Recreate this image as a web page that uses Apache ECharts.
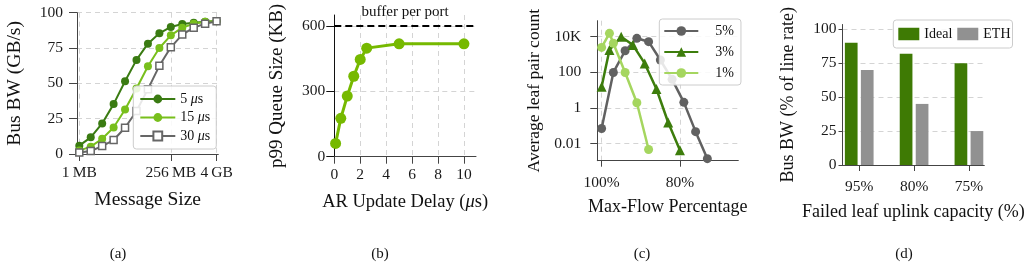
<!DOCTYPE html>
<html><head><meta charset="utf-8">
<script src="https://cdn.jsdelivr.net/npm/echarts@6/dist/echarts.min.js"></script>
<style>html,body{margin:0;padding:0;background:#fff}#c{width:1030px;height:269px}</style>
</head><body><div id="c"></div>
<script>
// ---- (a) Bus bandwidth vs message size ----
const msgSizesMB = [1,2,4,8,16,32,64,128,256,512,1024,2048,4096];
const bw5us  = [5.9,11.8,21.6,35.3,51.5,66.6,78.1,85.4,89.9,92.0,92.9,93.6,94.1];
const bw15us = [2.4,5.2,10.8,18.8,31.5,46.4,62.1,75.0,84.0,89.4,92.2,93.6,94.0];
const bw30us = [1.0,2.1,5.6,9.9,18.6,30.4,45.9,62.4,75.5,84.5,89.4,92.2,93.9];
const sizeTickValues = [1,256,4096];
const sizeTickLabels = ['1\u2009MB','256\u2009MB','4\u2009GB'];
const bwTicks = [0,25,50,75,100];
// ---- (b) p99 queue size vs AR update delay ----
const arDelayUs = [0.1,0.5,1,1.5,2,2.5,5,10];
const p99QueueKB = [61,176,278,369,446,498,518,518];
const delayTicks = [0,2,4,6,8,10];
const queueTicks = [0,300,600];
const bufferPerPortKB = 600;
// ---- (c) leaf pair count vs max-flow percentage ----
const flowPct5 = [100,97,94,91,88,85,82,79,76,73];
const pairs5   = [0.069,98,1620,8130,5250,490,40,2.04,0.046,0.0014];
const flowPct3 = [100,98,95,92,89,86,83,80];
const pairs3   = [15.5,1780,10000,3390,316,11.5,0.15,0.0042];
const flowPct1 = [100,98,97,94,91,88];
const pairs1   = [2510,15500,4270,98,1.95,0.0046];
const pairTickValues = [0.01,1,100,10000];
const pairTickLabels = ['0.01','1','100','10K'];
const flowTickValues = [100,80];
// ---- (d) bus BW under failed uplinks ----
const capacityCats = ['95%','80%','75%'];
const idealBW = [90,82,75];
const ethBW   = [70,45,25];
const pctTicks = [0,25,50,75,100];

const F = "'Liberation Serif','Times New Roman',serif";
const AX = '#444';
const TICK = 15.5;

function lookup(vals, labels) {
  return function (v) {
    for (let i = 0; i < vals.length; i++) {
      if (Math.abs(v - vals[i]) <= Math.abs(vals[i]) * 1e-6 + 1e-12) return labels[i];
    }
    return '';
  };
}
function axis(o) {
  const base = {
    axisLine: {onZero: false, lineStyle: {color: o.lineColor || AX, width: 1}},
    axisTick: {show: true, length: o.tickLen || 7, customValues: o.ticks, lineStyle: {color: o.lineColor || AX}},
    axisLabel: {customValues: o.ticks, fontFamily: F, fontSize: TICK, color: '#1a1a1a', margin: o.margin,
                showMinLabel: true, showMaxLabel: true, hideOverlap: false, formatter: o.formatter},
    splitLine: {show: o.split !== false, lineStyle: {color: '#d4d4d4', width: 1, type: [5, 4]}},
    nameLocation: 'middle', nameGap: o.nameGap,
    nameTextStyle: {fontFamily: F, fontSize: o.nameSize, color: '#111',
      rich: {i: {fontFamily: F, fontSize: o.nameSize, fontStyle: 'italic', color: '#111'}}}
  };
  return Object.assign(base, o.extra);
}
const legendBase = {
  backgroundColor: 'rgba(255,255,255,0.85)', borderColor: '#cccccc', borderWidth: 1, borderRadius: 3,
  textStyle: {fontFamily: F, fontSize: 14, color: '#111'}
};

const option = {
  animation: false,
  grid: [
    {left: 77, top: 12.7, width: 141.3, height: 141.3},
    {left: 334.3, top: 15, width: 141.7, height: 141.7},
    {left: 597.3, top: 20.7, width: 141, height: 140},
    {left: 842.5, top: 24.5, width: 141.8, height: 140.5}
  ],
  xAxis: [
    axis({ticks: sizeTickValues, formatter: lookup(sizeTickValues, sizeTickLabels), margin: 11, tickLen: 7,
      nameGap: 36, nameSize: 19.5,
      extra: {type: 'log', logBase: 2, gridIndex: 0, min: Math.pow(2, -0.2), max: Math.pow(2, 12.15), name: 'Message Size'}}),
    axis({ticks: delayTicks, margin: 10, tickLen: 7, nameGap: 36, nameSize: 18.5,
      extra: {type: 'value', gridIndex: 1, min: 0, max: 10.93, name: 'AR Update Delay ({i|μ}s)'}}),
    axis({ticks: flowTickValues, formatter: v => v + '%', margin: 14, tickLen: 6, nameGap: 38, nameSize: 18,
      extra: {type: 'value', gridIndex: 2, min: 65.1, max: 101.1, inverse: true, name: 'Max-Flow Percentage'}}),
    axis({ticks: [0,1,2], formatter: lookup([0,1,2], capacityCats), margin: 14, tickLen: 6, split: false,
      nameGap: 38, nameSize: 18,
      extra: {type: 'value', gridIndex: 3, min: -0.305, max: 2.28, name: 'Failed leaf uplink capacity (%)'}})
  ],
  yAxis: [
    axis({ticks: bwTicks, margin: 14, tickLen: 8, nameGap: 52, nameSize: 19.5,
      extra: {type: 'value', gridIndex: 0, min: 0, max: 100, name: 'Bus BW (GB/s)'}}),
    axis({ticks: queueTicks, margin: 9, tickLen: 8, nameGap: 48, nameSize: 19,
      lineColor: '#111',
      extra: {type: 'value', gridIndex: 1, min: 0, max: 650, name: 'p99 Queue Size (KB)'}}),
    axis({ticks: pairTickValues, formatter: lookup(pairTickValues, pairTickLabels), margin: 16, tickLen: 7,
      nameGap: 54, nameSize: 17.5,
      extra: {type: 'log', logBase: 10, gridIndex: 2, min: Math.pow(10, -2.97), max: Math.pow(10, 4.9), name: 'Average leaf pair count'}}),
    axis({ticks: pctTicks, margin: 6, tickLen: 4, nameGap: 45, nameSize: 18,
      extra: {type: 'value', gridIndex: 3, min: 0, max: 103.5, name: 'Bus BW (% of line rate)'}})
  ],
  legend: [
    Object.assign({}, legendBase, {
      data: ['5 μs', '15 μs', '30 μs'], left: 133.3, top: 86, orient: 'vertical',
      itemWidth: 35, itemHeight: 11, itemGap: 4.5, padding: [6, 6, 6, 6],
      formatter: n => n.replace('μ', '{i|μ}'),
      textStyle: {fontFamily: F, fontSize: 14, color: '#111', rich: {i: {fontFamily: F, fontSize: 14, fontStyle: 'italic'}}}
    }),
    Object.assign({}, legendBase, {
      data: ['5%', '3%', '1%'], left: 659.3, top: 19, orient: 'vertical',
      itemWidth: 34, itemHeight: 12, itemGap: 7, padding: [5, 7, 5, 4],
      textStyle: {fontFamily: F, fontSize: 14, color: '#111', padding: [0, 0, 0, 12]}
    }),
    Object.assign({}, legendBase, {
      data: ['Ideal', 'ETH'], left: 893.3, top: 20, orient: 'horizontal', icon: 'rect',
      itemWidth: 21, itemHeight: 12.5, itemGap: 5, padding: [7, 2, 7, 5]
    })
  ],
  series: [
    {name: '5 μs', type: 'line', xAxisIndex: 0, yAxisIndex: 0, clip: false,
     data: msgSizesMB.map((s, i) => [s, bw5us[i]]), symbol: 'circle', symbolSize: 8,
     itemStyle: {color: '#3a7b12'}, lineStyle: {color: '#3a7b12', width: 2}},
    {name: '15 μs', type: 'line', xAxisIndex: 0, yAxisIndex: 0, clip: false,
     data: msgSizesMB.map((s, i) => [s, bw15us[i]]), symbol: 'circle', symbolSize: 8,
     itemStyle: {color: '#78bf1c'}, lineStyle: {color: '#78bf1c', width: 2}},
    {name: '30 μs', type: 'line', xAxisIndex: 0, yAxisIndex: 0, clip: false,
     data: msgSizesMB.map((s, i) => [s, bw30us[i]]), symbol: 'rect', symbolSize: 7,
     itemStyle: {color: '#ffffff', borderColor: '#666666', borderWidth: 1.5}, lineStyle: {color: '#666666', width: 2}},

    {name: 'queue', type: 'line', xAxisIndex: 1, yAxisIndex: 1, clip: false,
     data: arDelayUs.map((d, i) => [d, p99QueueKB[i]]), symbol: 'circle', symbolSize: 11,
     itemStyle: {color: '#76b900'}, lineStyle: {color: '#76b900', width: 3},
     markLine: {silent: true, symbol: ['none', 'none'], animation: false,
       lineStyle: {color: '#000', width: 2, type: [7, 4]},
       label: {show: true, position: 'insideMiddleTop', distance: 6, formatter: 'buffer per port',
               fontFamily: F, fontSize: 15, color: '#111'},
       emphasis: {disabled: true},
       data: [{yAxis: bufferPerPortKB}]}},

    {name: '5%', type: 'line', xAxisIndex: 2, yAxisIndex: 2, clip: false,
     data: flowPct5.map((x, i) => [x, pairs5[i]]), symbol: 'circle', symbolSize: 9,
     itemStyle: {color: '#616161'}, lineStyle: {color: '#616161', width: 2.5}},
    {name: '3%', type: 'line', xAxisIndex: 2, yAxisIndex: 2, clip: false,
     data: flowPct3.map((x, i) => [x, pairs3[i]]), symbol: 'triangle', symbolSize: 10,
     itemStyle: {color: '#3d7d0c'}, lineStyle: {color: '#3d7d0c', width: 2.5}},
    {name: '1%', type: 'line', xAxisIndex: 2, yAxisIndex: 2, clip: false,
     data: flowPct1.map((x, i) => [x, pairs1[i]]), symbol: 'circle', symbolSize: 9,
     itemStyle: {color: '#a5d65f'}, lineStyle: {color: '#a5d65f', width: 2.5}},

    {name: 'Ideal', type: 'bar', xAxisIndex: 3, yAxisIndex: 3, barWidth: 12.7, barGap: '26%',
     data: capacityCats.map((c, i) => [i, idealBW[i]]), itemStyle: {color: '#3e7a04'}},
    {name: 'ETH', type: 'bar', xAxisIndex: 3, yAxisIndex: 3, barWidth: 12.7, barGap: '26%',
     data: capacityCats.map((c, i) => [i, ethBW[i]]), itemStyle: {color: '#919191'}}
  ],
  graphic: [
    {type: 'text', x: 118, y: 254, style: {text: '(a)', font: "15px 'Liberation Serif', serif", fill: '#111', align: 'center', verticalAlign: 'middle'}},
    {type: 'text', x: 380, y: 254, style: {text: '(b)', font: "15px 'Liberation Serif', serif", fill: '#111', align: 'center', verticalAlign: 'middle'}},
    {type: 'text', x: 642, y: 254, style: {text: '(c)', font: "15px 'Liberation Serif', serif", fill: '#111', align: 'center', verticalAlign: 'middle'}},
    {type: 'text', x: 904, y: 254, style: {text: '(d)', font: "15px 'Liberation Serif', serif", fill: '#111', align: 'center', verticalAlign: 'middle'}}
  ]
};
option.series.forEach(s => { s.emphasis = {disabled: true}; });
const chart = echarts.init(document.getElementById('c'), null, {renderer: 'canvas'});
chart.setOption(option);
</script></body></html>
